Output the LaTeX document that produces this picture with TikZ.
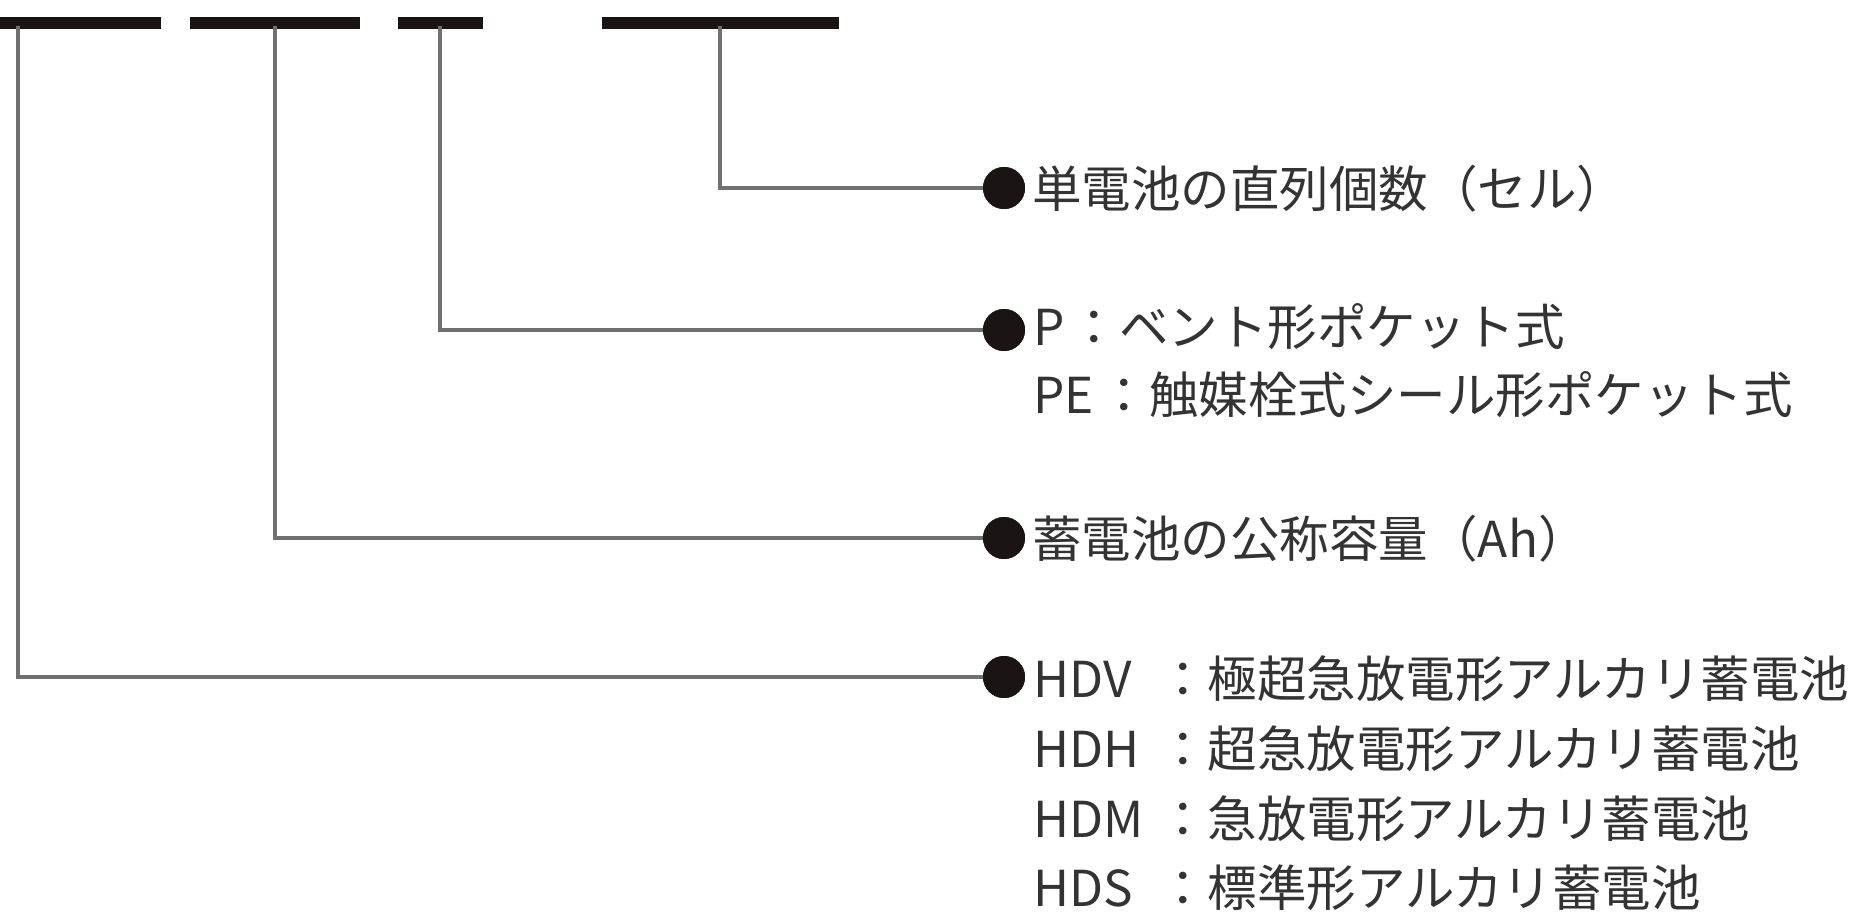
\documentclass[tikz,border=0pt]{standalone}
\usepackage{fontspec}
\newfontfamily\jpfont{Noto Sans CJK JP}
\definecolor{txtc}{HTML}{333333}
\definecolor{linec}{HTML}{707070}
\definecolor{barc}{HTML}{1A1414}
\tikzset{
  barbox/.style={fill=barc, draw=none, inner sep=0pt, minimum height=6pt},
  conn/.style={draw=linec, line width=1.6pt},
  dotnode/.style={circle, fill=barc, draw=none, inner sep=0pt, minimum size=21pt},
  txt/.style={anchor=base west, inner sep=0pt, text=txtc, font=\jpfont\fontsize{24.75pt}{35pt}\selectfont},
}
\begin{document}
\begin{tikzpicture}[x=0.5pt, y=-0.5pt]
\useasboundingbox (0,0) rectangle (1855,912);
% bars
\node[barbox, minimum width=80.5pt] (b1) at (80.5,23) {};
\node[barbox, minimum width=85pt] (b2) at (275,23) {};
\node[barbox, minimum width=42.5pt] (b3) at (440.5,23) {};
\node[barbox, minimum width=118.5pt] (b4) at (720.5,23) {};
% tap points
\coordinate (t1) at (18,26);
\coordinate (t2) at (275,26);
\coordinate (t3) at (440,26);
\coordinate (t4) at (720,26);
% dots
\node[dotnode] (d4) at (1004,188) {};
\node[dotnode] (d3) at (1004,330) {};
\node[dotnode] (d2) at (1004,538) {};
\node[dotnode] (d1) at (1004,677) {};
% connectors
\draw[conn] (t4) |- (d4.center);
\draw[conn] (t3) |- (d3.center);
\draw[conn] (t2) |- (d2.center);
\draw[conn] (t1) |- (d1.center);
\node[dotnode] at (d4) {};
\node[dotnode] at (d3) {};
\node[dotnode] at (d2) {};
\node[dotnode] at (d1) {};
% texts
\node[txt] (l1) at (1032,207) {単電池の直列個数（セル）};
\node[txt] (l2a) at (1033,345) {P\kern2.5pt：ベント形ポケット式};
\node[txt] (l2b) at (1033,413) {PE\kern3pt：触媒栓式シール形ポケット式};
\node[txt] (l3) at (1032,557) {蓄電池の公称容量（Ah）};
\node[txt] (hdv) at (1033,697) {HDV};
\node[txt] (hdvd) at (1158,697) {：極超急放電形アルカリ蓄電池};
\node[txt] (hdh) at (1033,767) {HDH};
\node[txt] (hdhd) at (1158,767) {：超急放電形アルカリ蓄電池};
\node[txt] (hdm) at (1033,837) {HDM};
\node[txt] (hdmd) at (1158,837) {：急放電形アルカリ蓄電池};
\node[txt] (hds) at (1033,906) {HDS};
\node[txt] (hdsd) at (1158,906) {：標準形アルカリ蓄電池};
\end{tikzpicture}
\end{document}
